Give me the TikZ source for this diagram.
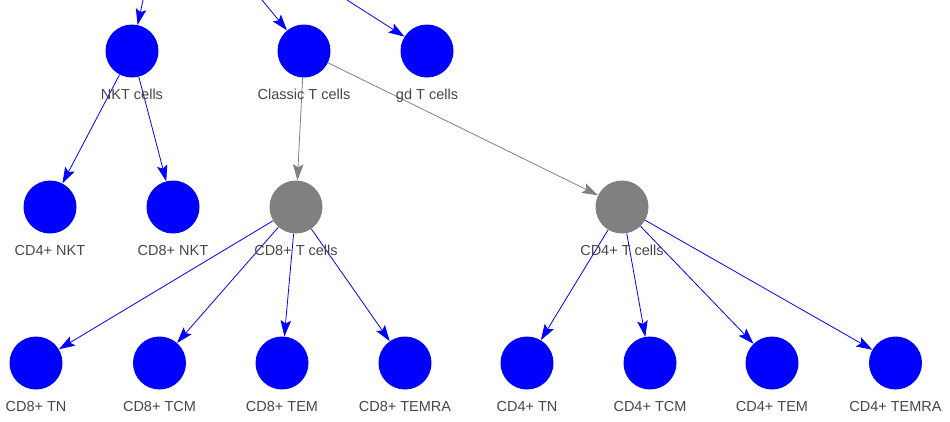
\documentclass[tikz,border=0pt]{standalone}
\usepackage{fontspec}
\setmainfont{Liberation Sans}
\usetikzlibrary{arrows.meta,backgrounds}
\definecolor{labelgray}{RGB}{70,70,70}
\definecolor{nodegray}{RGB}{128,128,128}
\begin{document}
\begin{tikzpicture}[x=1pt,y=-1pt]
            \tikzset{
                celltext/.style={font=\fontsize{14.5}{16}\selectfont,text=labelgray,inner sep=0pt,anchor=base,yshift=-21.8pt},
                cell/.style args={#1 labelled #2}{circle,fill=#1,minimum size=53pt,inner sep=0pt,label={[celltext]below:#2}},
                tip/.style={-{Stealth[length=16pt,width=10.5pt,inset=3pt]}},
                flow/.style={tip,draw=blue,line width=0.8pt},
                split/.style={tip,draw=nodegray,line width=0.8pt},}
            \useasboundingbox (0,0) rectangle (950,421);
            % top row
            \node[cell=blue labelled {NKT cells}] (nkt) at (132,51) {};
            \node[cell=blue labelled {Classic T cells}] (classic) at (304,51) {};
            \node[cell=blue labelled {gd T cells}] (gd) at (427,51) {};
            % middle row
            \node[cell=blue labelled {CD4+ NKT}] (cd4nkt) at (50,207) {};
            \node[cell=blue labelled {CD8+ NKT}] (cd8nkt) at (173,207) {};
            \node[cell=nodegray labelled {CD8+ T cells}] (cd8) at (296,207) {};
            \node[cell=nodegray labelled {CD4+ T cells}] (cd4) at (622,207) {};
            % bottom row
            \node[cell=blue labelled {CD8+ TN}] (cd8tn) at (36,363) {};
            \node[cell=blue labelled {CD8+ TCM}] (cd8tcm) at (159.5,363) {};
            \node[cell=blue labelled {CD8+ TEM}] (cd8tem) at (282,363) {};
            \node[cell=blue labelled {CD8+ TEMRA}] (cd8temra) at (405,363) {};
            \node[cell=blue labelled {CD4+ TN}] (cd4tn) at (527,363) {};
            \node[cell=blue labelled {CD4+ TCM}] (cd4tcm) at (650,363) {};
            \node[cell=blue labelled {CD4+ TEM}] (cd4tem) at (772,363) {};
            \node[cell=blue labelled {CD4+ TEMRA}] (cd4temra) at (895.5,363) {};
            % edges coming in from above the view
            \coordinate (in1) at (143,0);
            \coordinate (in2) at (262,0);
            \coordinate (in3) at (347,0);
            \begin{scope}[on background layer]
                \draw[flow] (in1) -- (nkt);
                \draw[flow] (in2) -- (classic);
                \draw[flow] (in3) -- (gd);
                \draw[flow] (nkt) -- (cd4nkt);
                \draw[flow] (nkt) -- (cd8nkt);
                \draw[split] (classic) -- (cd8);
                \draw[split] (classic) -- (cd4);
                \foreach \t in {cd8tn,cd8tcm,cd8tem,cd8temra}
                    \draw[flow] (cd8) -- (\t);
                \foreach \t in {cd4tn,cd4tcm,cd4tem,cd4temra}
                    \draw[flow] (cd4) -- (\t);
            \end{scope}
        \end{tikzpicture}
\end{document}
